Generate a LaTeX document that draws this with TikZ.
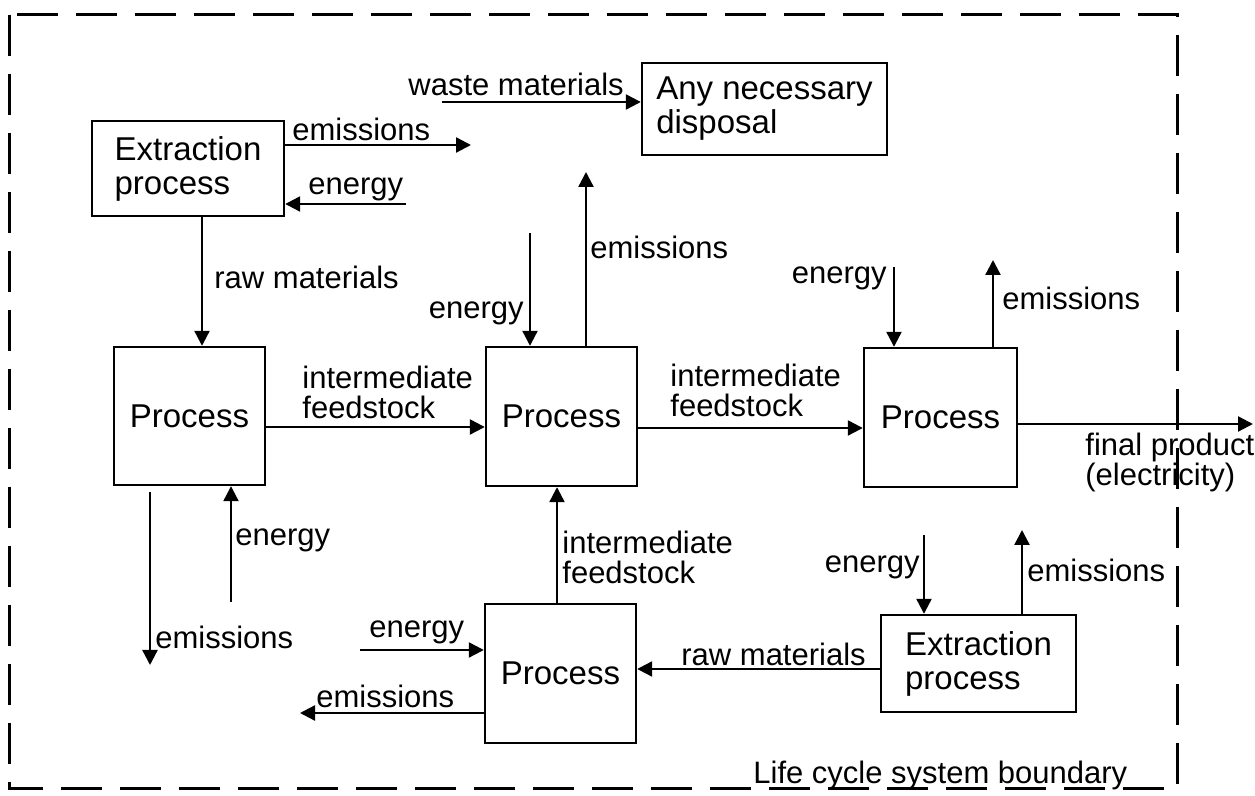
\documentclass[tikz,border=0pt]{standalone}
\usepackage{fontspec}
\setmainfont{Liberation Sans}
\usetikzlibrary{arrows.meta,calc}
\begin{document}
\begin{tikzpicture}[x=0.5pt,y=-0.5pt,
  box/.style={draw,line width=1.2pt,inner sep=0pt,align=left,font=\fontsize{16.5}{17}\selectfont},
  lbl/.style={inner sep=0pt,align=left,font=\fontsize{15.5}{15}\selectfont},
  arr/.style={line width=1.15pt,-{Triangle[length=7.5pt,width=7.5pt]}},
  bound/.style={line width=1.5pt,dash pattern=on 20.5pt off 9pt}]
\useasboundingbox (0,0) rectangle (1255,796);
% boundary
\draw[bound] (9,15) rectangle (1177,789);
\node[lbl,anchor=west] (lcsb) at (753,775) {Life cycle system boundary};
% boxes
\node[box,minimum width=96pt,minimum height=47.5pt] (E1) at (188,168.5) {Extraction\\process};
\node[box,minimum width=122.5pt,minimum height=46pt] (D) at (764.5,109) {Any necessary\\disposal};
\node[box,minimum width=75.5pt,minimum height=69pt] (P1) at (189.5,416) {Process};
\node[box,minimum width=75.5pt,minimum height=69.5pt] (P2) at (561.5,416.5) {Process};
\node[box,minimum width=76.5pt,minimum height=69.5pt] (P3) at (940.5,417.5) {Process};
\node[box,minimum width=75.5pt,minimum height=69.5pt] (P4) at (560.5,673.5) {Process};
\node[box,minimum width=97.5pt,minimum height=48.5pt] (E2) at (978.5,663.5) {Extraction\\process};
% coordinates
\coordinate (wst) at (442,102);
\coordinate (e1em) at (471,145);
\coordinate (e1en) at (406,204);
\coordinate (raw1) at (202,0);
\coordinate (a12) at (0,427);
\coordinate (p2en) at (530,233);
\coordinate (p2em) at (586,172);
\coordinate (a23) at (0,428);
\coordinate (p3en) at (894,267);
\coordinate (p3em) at (993,260);
\coordinate (fin) at (1253,424);
\coordinate (p1emA) at (150,492);
\coordinate (p1emB) at (150,665);
\coordinate (p1en) at (231,602);
\coordinate (a42) at (557,0);
\coordinate (p4en) at (360,650);
\coordinate (p4em) at (300,713);
\coordinate (araw) at (0,669);
\coordinate (e2en) at (924,535);
\coordinate (e2em) at (1022,530);
% arrows
\draw[arr] (wst) -- (wst -| D.west);
\draw[arr] (e1em -| E1.east) -- (e1em);
\draw[arr] (e1en) -- (e1en -| E1.east);
\draw[arr] (raw1 |- E1.south) -- (raw1 |- P1.north);
\draw[arr] (a12 -| P1.east) -- (a12 -| P2.west);
\draw[arr] (p2en) -- (p2en |- P2.north);
\draw[arr] (p2em |- P2.north) -- (p2em);
\draw[arr] (a23 -| P2.east) -- (a23 -| P3.west);
\draw[arr] (p3en) -- (p3en |- P3.north);
\draw[arr] (p3em |- P3.north) -- (p3em);
\draw[arr] (fin -| P3.east) -- (fin);
\draw[arr] (p1emA) -- (p1emB);
\draw[arr] (p1en) -- (p1en |- P1.south);
\draw[arr] (a42 |- P4.north) -- (a42 |- P2.south);
\draw[arr] (p4en) -- (p4en -| P4.west);
\draw[arr] (p4em -| P4.west) -- (p4em);
\draw[arr] (araw -| E2.west) -- (araw -| P4.east);
\draw[arr] (e2en) -- (e2en |- E2.north);
\draw[arr] (e2em |- E2.north) -- (e2em);
% labels
\node[lbl,anchor=west] (lw) at (408,84) {waste materials};
\node[lbl,anchor=west] (l1) at (292,129) {emissions};
\node[lbl,anchor=west] (l2) at (308,189) {energy};
\node[lbl,anchor=west] (l3) at (214,277) {raw materials};
\node[lbl,anchor=west] (l4) at (302,392) {intermediate\\feedstock};
\node[lbl,anchor=east] (l5) at (524,313) {energy};
\node[lbl,anchor=west] (l6) at (590,247) {emissions};
\node[lbl,anchor=west] (l7) at (670,390) {intermediate\\feedstock};
\node[lbl,anchor=east] (l8) at (887,278) {energy};
\node[lbl,anchor=west] (l9) at (1002,298) {emissions};
\node[lbl,anchor=west] (l10) at (1085,462.5) {final product\\(electricity)};
\node[lbl,anchor=west] (l11) at (155,637) {emissions};
\node[lbl,anchor=west] (l12) at (235,540) {energy};
\node[lbl,anchor=west] (l13) at (562,557) {intermediate\\feedstock};
\node[lbl,anchor=west] (l14) at (369,632) {energy};
\node[lbl,anchor=west] (l15) at (316,696) {emissions};
\node[lbl,anchor=west] (l16) at (681,654) {raw materials};
\node[lbl,anchor=east] (l17) at (920,567) {energy};
\node[lbl,anchor=west] (l18) at (1027,570) {emissions};
\end{tikzpicture}
\end{document}
